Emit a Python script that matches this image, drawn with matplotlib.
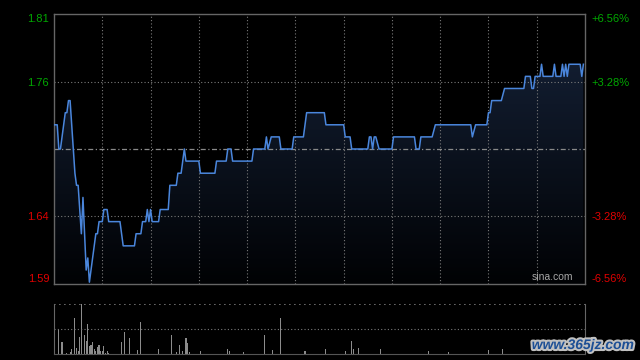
import numpy as np
import matplotlib
matplotlib.use("Agg")
import matplotlib.pyplot as plt
import matplotlib.patheffects as pe

plt.rcParams["font.family"] = ["Liberation Sans", "DejaVu Sans"]

# Datos del grafico intradia (minutos desde la apertura, precio)
prev_close = 1.70
pct_ticks = [6.56, 3.28, -3.28, -6.56]

t_pts = [0, 2, 3, 4, 7, 8, 9, 10, 11, 13, 14, 15, 17, 18, 19, 20, 21, 22, 26, 27,
         28, 30, 31, 33, 34, 41, 43, 50, 51, 54, 55, 57, 58, 59, 60, 61, 65, 66, 71, 72,
         76, 77, 79, 81, 82, 90, 91, 100, 101, 107, 108, 110, 111, 123, 124, 131, 132, 133, 135, 140,
         141, 148, 149, 155, 157, 168, 169, 180, 181, 184, 185, 195, 196, 197, 198, 199, 200, 202, 210, 211,
         224, 225, 227, 228, 235, 237, 259, 260, 262, 269, 270, 271, 272, 278, 280, 292, 293, 296, 297, 298,
         299, 302, 303, 304, 310, 311, 312, 315, 316, 317, 318, 319, 320, 327, 328, 329]
price_pts = [1.72, 1.72, 1.70, 1.70, 1.73, 1.73, 1.74, 1.74, 1.72, 1.68, 1.67, 1.67, 1.63, 1.66, 1.63, 1.60, 1.61, 1.59, 1.63, 1.63,
             1.64, 1.64, 1.65, 1.65, 1.64, 1.64, 1.62, 1.62, 1.63, 1.63, 1.64, 1.64, 1.65, 1.64, 1.65, 1.64, 1.64, 1.65, 1.65, 1.67,
             1.67, 1.68, 1.68, 1.70, 1.69, 1.69, 1.68, 1.68, 1.69, 1.69, 1.70, 1.70, 1.69, 1.69, 1.70, 1.70, 1.71, 1.70, 1.71, 1.71,
             1.70, 1.70, 1.71, 1.71, 1.73, 1.73, 1.72, 1.72, 1.71, 1.71, 1.70, 1.70, 1.71, 1.71, 1.70, 1.71, 1.71, 1.70, 1.70, 1.71,
             1.71, 1.70, 1.70, 1.71, 1.71, 1.72, 1.72, 1.71, 1.72, 1.72, 1.73, 1.73, 1.74, 1.74, 1.75, 1.75, 1.76, 1.76, 1.75, 1.75,
             1.76, 1.76, 1.77, 1.76, 1.76, 1.77, 1.76, 1.76, 1.77, 1.76, 1.77, 1.76, 1.77, 1.77, 1.76, 1.77]

vol_t = [3, 5, 8, 10, 11, 13, 14, 15, 16, 17, 19, 20, 21, 22, 23, 24, 25, 26, 27, 28,
         29, 30, 31, 32, 33, 34, 42, 44, 47, 52, 54, 65, 73, 76, 78, 80, 82, 83, 84, 91,
         108, 109, 118, 131, 136, 141, 156, 169, 181, 185, 186, 189, 203, 233, 245, 270, 279]
vol = [240, 117, 10, 17, 53, 360, 60, 27, 170, 500, 187, 130, 300, 80, 90, 120, 50, 27, 70, 90,
       33, 33, 80, 10, 30, 10, 120, 223, 163, 43, 323, 53, 193, 17, 87, 27, 163, 107, 17, 27,
       53, 33, 17, 193, 37, 363, 33, 53, 27, 133, 53, 63, 53, 33, 23, 43, 53]

GREEN = "#00a800"
RED = "#e00000"
GRID = "#7a7a7a"
FRAME = "#666666"

fig = plt.figure(figsize=(6.4, 3.6), dpi=100, facecolor="black")
ax = fig.add_axes([54 / 640, 1 - 284 / 360, 531 / 640, 270 / 360], facecolor="black")
axv = fig.add_axes([54 / 640, 1 - 354 / 360, 531 / 640, 50 / 360], facecolor="black")

ymin = prev_close * (1 + pct_ticks[-1] / 100)
ymax = prev_close * (1 + pct_ticks[0] / 100)
ax.set_xlim(0, 330)
ax.set_ylim(ymin, ymax)

# relleno con degradado bajo la linea
poly = ax.fill_between(t_pts, price_pts, ymin, color="none", lw=0)
grad = np.linspace(1, 0, 256).reshape(-1, 1)
top_c = np.array([22, 35, 58]) / 255
bot_c = np.array([1, 2, 4]) / 255
img = top_c * grad[..., None] + bot_c * (1 - grad[..., None])
im = ax.imshow(img, extent=[0, 330, ymin, ymax], aspect="auto", zorder=1, origin="upper")
im.set_clip_path(poly.get_paths()[0], transform=ax.transData)

ax.plot(t_pts, price_pts, color="#4a86dc", lw=1.1, zorder=3)

# rejilla
for x in range(30, 330, 30):
    ax.axvline(x, color=GRID, lw=0.8, ls=(0, (1, 2)), zorder=2)
for p in pct_ticks[1:3]:
    ax.axhline(prev_close * (1 + p / 100), color=GRID, lw=0.8, ls=(0, (1, 2)), zorder=2)
ax.axhline(prev_close, color="#8a8a8a", lw=0.9, ls=(0, (4, 2, 1, 2)), zorder=2)

for s in ax.spines.values():
    s.set_color(FRAME)
    s.set_linewidth(1)

ax.set_xticks([])
yt = [prev_close * (1 + p / 100) for p in pct_ticks]
ax.set_yticks(yt)
left_labels = ax.set_yticklabels([f"{v:.2f}" for v in yt], fontsize=8)
ax.tick_params(axis="y", length=0, pad=3.5)
ax2 = ax.twinx()
ax2.set_ylim(ymin, ymax)
ax2.set_yticks(yt)
right_labels = ax2.set_yticklabels([f"{p:+.2f}%" for p in pct_ticks], fontsize=8)
ax2.tick_params(axis="y", length=0, pad=4.5)
for s in ax2.spines.values():
    s.set_visible(False)
for labels in (left_labels, right_labels):
    for i, lab in enumerate(labels):
        lab.set_color(GREEN if pct_ticks[i] > 0 else RED)
    labels[0].set_verticalalignment("top")
    labels[-1].set_verticalalignment("bottom")

ax.text(0.977, 0.008, "sina.com", transform=ax.transAxes, ha="right", va="bottom",
        color="#a8a8a8", fontsize=7.5, zorder=4)

# volumen
axv.set_xlim(0, 330)
axv.set_ylim(0, 500)
axv.bar(vol_t, vol, width=0.7, color="#8c8c8c", lw=0)
axv.axhline(250, color=GRID, lw=0.8, ls=(0, (1, 2)))
axv.axhline(500, color=GRID, lw=1.2, ls=(0, (1, 2)))
axv.set_xticks([])
axv.set_yticks([])
axv.spines["top"].set_visible(False)
axv.spines["bottom"].set_color("#555555")
axv.spines["left"].set_color(FRAME)
axv.spines["right"].set_color(FRAME)

fig.text(634 / 640, 1 - 352 / 360, "www.365jz.com", ha="right", va="bottom", fontsize=10,
         fontweight="bold", style="italic", color="#1d4f95",
         path_effects=[pe.withStroke(linewidth=3, foreground="#c0c0c0")])

fig.savefig("out.png", dpi=100, facecolor="black")
